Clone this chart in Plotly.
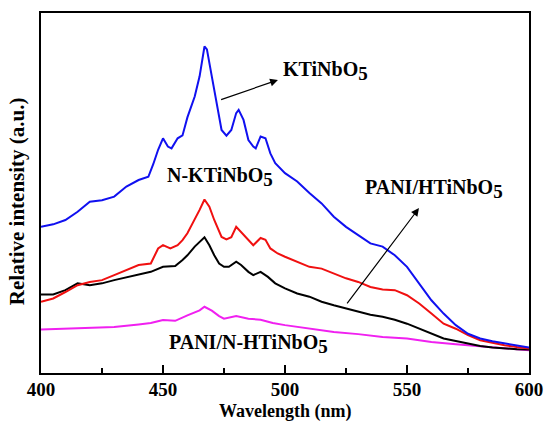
import plotly.graph_objects as go

# Photoluminescence spectra (relative intensity, arbitrary units)
wl_ktinbo5 = [400, 405, 410, 415, 420, 425, 430, 435, 440, 444, 446, 448, 450, 452, 453.5, 456, 458, 460,
              463, 465, 467, 468, 470, 472, 474, 476, 478, 480, 481, 483, 485, 487, 488, 490, 492, 494,
              496, 500, 505, 510, 515, 520, 525, 530, 535, 540, 545, 550, 555, 560, 565, 570, 575, 580,
              585, 590, 595, 600]
i_ktinbo5 = [40.6, 41.3, 42.5, 44.8, 47.6, 48.0, 49.0, 51.8, 53.6, 54.5, 58.0, 62.0, 65.2, 62.9, 62.4, 65.2,
             66.0, 71.0, 76.8, 82.4, 90.7, 89.9, 82.4, 75.0, 67.5, 65.9, 67.5, 72.2, 73.1, 70.3, 64.7, 62.9,
             62.4, 65.7, 65.2, 61.0, 58.3, 55.5, 53.2, 50.0, 47.1, 43.4, 40.6, 38.3, 36.0, 35.1, 32.7, 29.5,
             24.9, 20.2, 16.5, 13.3, 10.9, 9.6, 8.8, 8.2, 7.6, 7.1]

wl_nk = [400, 405, 410, 415, 420, 425, 430, 435, 440, 445, 448, 450, 453, 456, 458, 460, 463, 465, 467,
         469, 471, 474, 476, 478, 480, 482, 484, 487, 490, 492, 494, 497, 500, 505, 510, 515, 520, 525,
         530, 535, 540, 545, 550, 555, 560, 565, 570, 575, 580, 585, 590, 595, 600]
i_nk = [19.8, 20.7, 22.5, 24.4, 25.3, 25.8, 27.2, 28.6, 30.0, 30.4, 34.6, 35.5, 34.6, 35.5, 36.9, 38.8,
        42.5, 45.3, 48.2, 46.2, 42.5, 37.8, 37.1, 37.7, 40.6, 39.1, 37.8, 35.5, 37.5, 37.0, 34.6, 33.2,
        32.3, 30.9, 29.5, 29.0, 27.6, 26.3, 25.3, 23.9, 23.2, 23.0, 21.6, 19.3, 16.5, 13.7, 12.3, 10.5,
        9.1, 8.3, 7.7, 7.2, 6.8]

wl_pani = [400, 405, 410, 415, 420, 425, 430, 435, 440, 445, 450, 455, 458, 460, 463, 465, 467, 469,
           471, 473, 475, 477, 480, 482, 485, 487, 490, 493, 496, 500, 505, 510, 515, 520, 525, 530,
           535, 540, 545, 550, 555, 560, 565, 570, 575, 580, 585, 590, 595, 600]
i_pani = [21.8, 21.8, 23.0, 24.9, 24.4, 24.9, 25.8, 26.5, 27.2, 28.1, 29.5, 29.7, 31.4, 32.7, 35.1,
          36.5, 37.7, 35.5, 32.7, 30.4, 29.5, 29.5, 30.9, 30.0, 28.1, 27.2, 28.1, 26.7, 24.9, 23.5,
          22.1, 21.2, 19.8, 18.8, 17.9, 17.0, 16.2, 15.6, 14.8, 13.7, 12.3, 10.9, 9.6, 8.9, 8.2, 7.5,
          7.1, 6.8, 6.6, 6.5]

wl_pani_n = [400, 410, 420, 430, 440, 445, 450, 455, 460, 465, 467, 470, 473, 475, 480, 485, 490, 495,
             500, 510, 520, 530, 540, 550, 560, 570, 580, 590, 600]
i_pani_n = [12.1, 12.3, 12.5, 12.8, 13.5, 13.9, 14.7, 14.5, 16.0, 17.4, 18.4, 17.3, 15.8, 15.1, 15.8,
            15.1, 14.8, 13.9, 13.3, 12.3, 11.4, 10.8, 10.0, 9.6, 8.6, 8.0, 7.4, 6.8, 6.3]

x_ticks = [400, 450, 500, 550, 600]

SERIF = "Liberation Serif, Times New Roman, serif"

fig = go.Figure()
for xs, ys, col in [
    (wl_pani_n, i_pani_n, "#f020f0"),
    (wl_pani, i_pani, "#000000"),
    (wl_nk, i_nk, "#f01010"),
    (wl_ktinbo5, i_ktinbo5, "#1010f0"),
]:
    fig.add_trace(go.Scatter(x=xs, y=ys, mode="lines", line=dict(color=col, width=2), showlegend=False))


def formula(name):
    # chemical formula with a large, lowered "5"
    return f"<b>{name}<sub><span style='font-size:19px'>5</span></sub></b>"


label_font = dict(family=SERIF, size=20, color="black")
labels = [
    (516.5, 84.0, formula("KTiNbO")),
    (473.5, 54.5, formula("N-KTiNbO")),
    (561, 51.0, formula("PANI/HTiNbO")),
    (485, 8.0, formula("PANI/N-HTiNbO")),
]
for x, y, t in labels:
    fig.add_annotation(x=x, y=y, text=t, showarrow=False, font=label_font)

# pointer arrows: (tail) -> (head)
arrows = [((473.2, 75.8), (497.1, 81.4)), ((525.0, 18.9), (554.9, 45.8))]
for (x0, y0), (x1, y1) in arrows:
    fig.add_annotation(x=x1, y=y1, ax=x0, ay=y0, xref="x", yref="y", axref="x", ayref="y",
                       text="", showarrow=True, arrowhead=2, arrowsize=1.3, arrowwidth=1.2,
                       arrowcolor="black")

# axis titles placed explicitly below / left of the frame
fig.add_annotation(x=0.5, y=-0.1083, xref="paper", yref="paper", text="<b>Wavelength (nm)</b>",
                   showarrow=False, font=dict(family=SERIF, size=18, color="black"),
                   xanchor="center", yanchor="middle")
fig.add_annotation(x=-0.0502, y=0.476, xref="paper", yref="paper",
                   text="<b>Relative intensity (a.u.)</b>", textangle=-90,
                   showarrow=False, font=dict(family=SERIF, size=21, color="black"),
                   xanchor="center", yanchor="middle")

fig.update_layout(
    width=545, height=421,
    margin=dict(l=41, r=16, t=13, b=48, autoexpand=False),
    plot_bgcolor="white", paper_bgcolor="white",
    font=dict(family=SERIF, color="black"),
)
fig.update_xaxes(
    range=[400, 600], tickvals=x_ticks, ticktext=[f"<b>{v}</b>" for v in x_ticks],
    ticks="inside", ticklen=8, tickwidth=1.5, tickcolor="black",
    minor=dict(dtick=25, ticks="inside", ticklen=5, tickwidth=1.5, tickcolor="black"),
    showline=True, linewidth=2, linecolor="black", mirror=True, showgrid=False, zeroline=False,
    tickfont=dict(family=SERIF, size=19), ticklabelstandoff=-2, automargin=False,
)
fig.update_yaxes(
    range=[0, 100], showticklabels=False, ticks="", automargin=False,
    showline=True, linewidth=2, linecolor="black", mirror=True, showgrid=False, zeroline=False,
)

fig.write_html("out.html")
